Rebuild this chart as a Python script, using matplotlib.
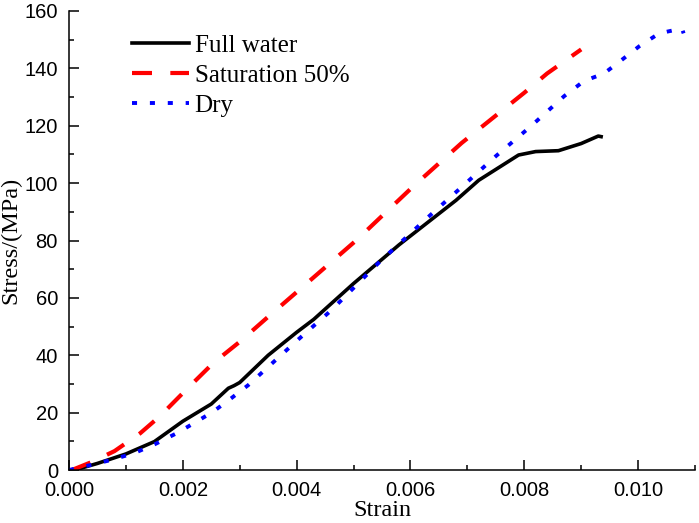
import numpy as np
import matplotlib.pyplot as plt
from matplotlib.ticker import MultipleLocator

plt.rcParams['font.family'] = ['Liberation Sans', 'DejaVu Sans']

# strain / stress
full_x = [0.0001, 0.0005, 0.0010, 0.0015, 0.0020, 0.0025, 0.0028, 0.0029, 0.0030,
          0.0035, 0.0040, 0.0043, 0.0050, 0.0058, 0.0068, 0.0072, 0.0079, 0.0082,
          0.0086, 0.0090, 0.0093, 0.00935]
full_y = [0.0, 2.3, 5.6, 9.9, 17.0, 23.0, 28.5, 29.4, 30.5,
          40.0, 48.0, 52.5, 65.0, 78.5, 94.0, 101.0, 109.8, 111.0,
          111.3, 113.8, 116.4, 116.2]

sat_x = [0.00005, 0.0004, 0.0008, 0.00125, 0.0016, 0.00206, 0.00253, 0.0030,
         0.00347, 0.0040, 0.00505, 0.00604, 0.0069, 0.0080, 0.0084, 0.0090]
sat_y = [0.0, 2.8, 6.6, 12.8, 18.8, 28.0, 37.2, 44.7,
         52.9, 62.0, 80.1, 98.7, 114.0, 131.5, 138.2, 146.6]

dry_x = [0.0, 0.00037, 0.00078, 0.00116, 0.00151, 0.00189, 0.00221, 0.00253,
         0.00285, 0.00315, 0.0040, 0.00461, 0.00546, 0.00633, 0.00692, 0.0075,
         0.00812, 0.0087, 0.00905, 0.0094, 0.00971, 0.01002, 0.01037, 0.01077, 0.0108]
dry_y = [0.0, 1.7, 3.7, 6.0, 9.0, 12.8, 16.5, 20.3,
         25.0, 29.6, 45.0, 55.7, 72.6, 88.5, 99.0, 109.4,
         119.9, 130.3, 135.6, 138.2, 142.9, 147.7, 152.2, 153.9, 152.2]

fig = plt.figure(figsize=(6.99, 5.23), dpi=100)
ax = fig.add_axes([0.0987, 0.1013, 0.8956, 0.8777])

ax.plot(full_x, full_y, color='black', lw=2.6, label='Full water')
ax.plot(sat_x, sat_y, color='red', lw=3.0, ls=(0, (4.8, 4.4)), label='Saturation 50%')
ax.plot(dry_x, dry_y, color='blue', lw=2.8, ls=(0, (1.3, 3.3)), label='Dry')

ax.set_xlim(0, 0.011)
ax.set_ylim(0, 160)
ax.xaxis.set_major_locator(MultipleLocator(0.002))
ax.xaxis.set_minor_locator(MultipleLocator(0.001))
ax.yaxis.set_major_locator(MultipleLocator(20))
ax.yaxis.set_minor_locator(MultipleLocator(10))
ax.xaxis.set_major_formatter(plt.FuncFormatter(lambda v, p: '%.3f' % v))

for s in ['top', 'right']:
    ax.spines[s].set_visible(False)
for s in ['left', 'bottom']:
    ax.spines[s].set_linewidth(1.1)

ax.tick_params(which='major', direction='in', length=7, width=1.1, pad=8,
               labelsize=14.5)
ax.tick_params(which='minor', direction='in', length=3.6, width=1.1)

ax.set_xlabel('Strain', family='Liberation Serif', fontsize=17.5, labelpad=0)
ax.set_ylabel('Stress/(MPa)', family='Liberation Serif', fontsize=17.5, labelpad=2)

leg = ax.legend(loc='upper left', bbox_to_anchor=(0.08, 0.976), frameon=False,
                prop={'family': 'Liberation Serif', 'size': 18},
                handlelength=2.3, handletextpad=0.22, labelspacing=0.3,
                borderpad=0)

fig.savefig('out.png', dpi=100)
